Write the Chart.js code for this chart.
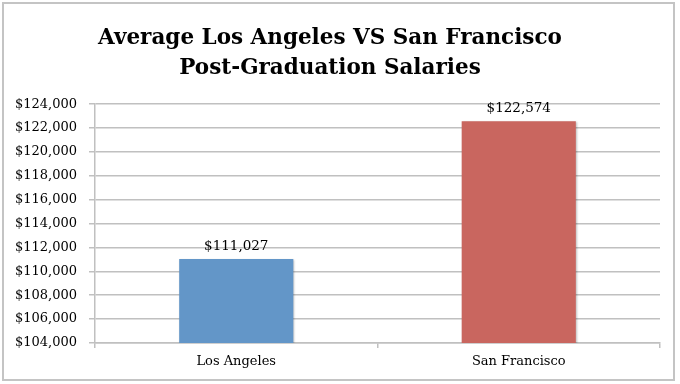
<!DOCTYPE html>
<html>
<head>
<meta charset="utf-8">
<script src="https://cdn.jsdelivr.net/npm/chart.js@4.4.0/dist/chart.umd.min.js"></script>
<style>
  html, body { margin: 0; padding: 0; background: #fff; }
  #wrap { position: relative; width: 680px; height: 384px; }
</style>
</head>
<body>
<div id="wrap"><canvas id="myChart" width="680" height="384"></canvas></div>
<script>
// chart data
var cities = ['Los Angeles', 'San Francisco'];
var salaries = [111027, 122574];
var barColors = ['#6396c8', '#c9665f'];
var titleLines = ['Average Los Angeles VS San Francisco', 'Post-Graduation Salaries'];
var yMin = 104000;
var yMax = 124000;
var yStep = 2000;

var serif = "'DejaVu Serif', 'Liberation Serif', serif";
var gridColor = '#c0c0c0';

function money(v) {
    return '$' + Number(v).toLocaleString('en-US');
}

// white background + grey frame round the whole chart
var framePlugin = {
    id: 'frame',
    beforeDraw: function(chart) {
        var c = chart.ctx;
        c.save();
        c.fillStyle = '#fff';
        c.fillRect(0, 0, chart.width, chart.height);
        c.strokeStyle = '#c4c4c4';
        c.lineWidth = 2;
        c.strokeRect(3, 3, 671, 377);
        c.restore();
    }
};

// soft shadow under the bars
var shadowPlugin = {
    id: 'barShadow',
    beforeDatasetsDraw: function(chart) {
        var c = chart.ctx;
        c.save();
        c.shadowColor = 'rgba(0,0,0,0.25)';
        c.shadowBlur = 2;
        c.shadowOffsetX = 1;
        c.shadowOffsetY = 1;
    },
    afterDatasetsDraw: function(chart) {
        chart.ctx.restore();
    }
};

// value labels above the bars
var valueLabels = {
    id: 'valueLabels',
    afterDraw: function(chart) {
        var c = chart.ctx;
        var meta = chart.getDatasetMeta(0);
        c.save();
        c.font = '13.5px ' + serif;
        c.fillStyle = '#000';
        c.textAlign = 'center';
        c.textBaseline = 'bottom';
        meta.data.forEach(function(bar, i) {
            c.fillText(money(chart.data.datasets[0].data[i]), bar.x, bar.y - 6);
        });
        c.restore();
    }
};

var ctx = document.getElementById('myChart').getContext('2d');
var chart = new Chart(ctx, {
    type: 'bar',
    data: {
        labels: cities,
        datasets: [{
            data: salaries,
            backgroundColor: barColors,
            borderWidth: 0,
            categoryPercentage: 1,
            barPercentage: 0.404
        }]
    },
    options: {
        responsive: false,
        animation: false,
        layout: { padding: { left: 0, right: 20, top: 0, bottom: 0 } },
        plugins: {
            legend: { display: false },
            tooltip: { enabled: false },
            title: {
                display: true,
                text: titleLines,
                color: '#000',
                font: { family: serif, size: 21.5, weight: 'bold', lineHeight: 1.4 },
                padding: { top: 23, bottom: 21 }
            }
        },
        scales: {
            x: {
                offset: true,
                grid: { offset: true, drawOnChartArea: false, drawTicks: true, tickLength: 5, color: gridColor, lineWidth: 1.5 },
                border: { display: true, color: gridColor, width: 1.5 },
                ticks: { color: '#000', padding: 6, font: { family: serif, size: 13 } },
                afterFit: function(axis) { axis.height = 41; }
            },
            y: {
                min: yMin,
                max: yMax,
                grid: { color: gridColor, lineWidth: 1.5, tickLength: 6 },
                border: { display: true, color: gridColor, width: 1.5 },
                ticks: {
                    stepSize: yStep,
                    color: '#000',
                    padding: 12,
                    font: { family: serif, size: 13 },
                    callback: function(v) { return money(v); }
                },
                afterFit: function(axis) { axis.width = 95; }
            }
        }
    },
    plugins: [framePlugin, shadowPlugin, valueLabels]
});
</script>
</body>
</html>
